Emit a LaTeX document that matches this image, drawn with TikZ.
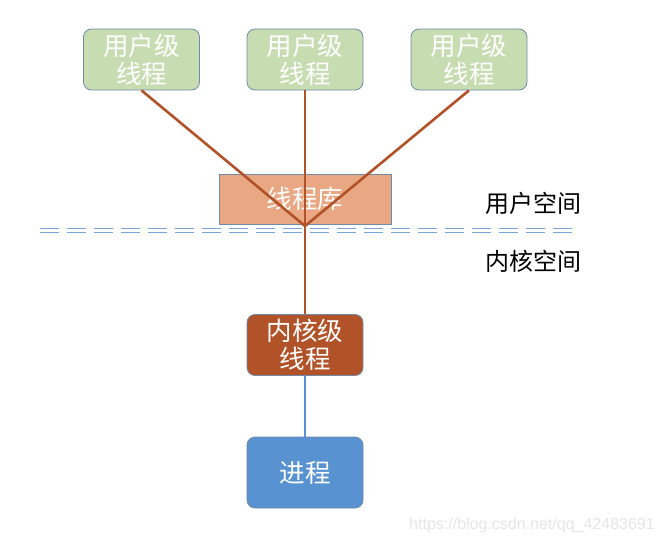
\documentclass[tikz,border=0pt]{standalone}
\usepackage{fontspec}
\usepackage{xcolor}
\usepackage{tikz}
\usetikzlibrary{positioning}
\newfontfamily\cjk{Noto Sans CJK SC}

\definecolor{ugreen}{RGB}{200,220,178}
\definecolor{libsalmon}{RGB}{233,168,131}
\definecolor{kbrown}{RGB}{178,82,40}
\definecolor{pblue}{RGB}{88,146,208}
\definecolor{boxedge}{RGB}{110,140,170}
\definecolor{sepblue}{RGB}{120,165,220}

\tikzset{
	threadbox/.style={draw=boxedge, line width=0.8pt, rounded corners=8pt, minimum width=116pt,
		minimum height=61pt, align=center, text=white, font=\cjk\fontsize{25.5}{28}\selectfont,
		inner sep=0pt},
	libbox/.style={draw=boxedge, line width=0.8pt, fill=libsalmon, minimum width=172pt,
		minimum height=50pt, text=white, font=\cjk\fontsize{25.5}{28}\selectfont},
	link/.style={draw=kbrown, line width=2.6pt},
	spacelabel/.style={font=\cjk\fontsize{24}{28}\selectfont, text=black},
}

\begin{document}
\begin{tikzpicture}[x=1pt, y=-1pt]
				\useasboundingbox (0, 0) rectangle (660, 543);
				
				% user level threads
				\node[threadbox, fill=ugreen] (uthreada) at (141.5, 59.5) {用户级\\线程};
				\node[threadbox, fill=ugreen] (uthreadb) at (305, 59.5) {用户级\\线程};
				\node[threadbox, fill=ugreen] (uthreadc) at (469, 59.5) {用户级\\线程};
				
				% library
				\node[libbox] (threadlib) at (305, 199) {线程库};
				
				% separator
				\draw[sepblue, line width=1.6pt, dash pattern=on 19pt off 8pt] (40, 228.5) -- (572, 228.5);
				\draw[sepblue, line width=1.6pt, dash pattern=on 19pt off 8pt] (40, 232.5) -- (572, 232.5);
				
				\node[spacelabel] (userspace) at (533, 203) {用户空间};
				\node[spacelabel] (kernelspace) at (533, 261) {内核空间};
				
				% kernel side
				\node[threadbox, fill=kbrown] (kthread) at (305, 345) {内核级\\线程};
				\node[threadbox, fill=pblue, minimum height=71pt] (proc) at (305, 472.5) {进程};
				
				\coordinate (hub) at (305, 226);
				\draw[link] (uthreada.south) -- (hub);
				\draw[link] (uthreadb.south) -- (hub);
				\draw[link] (uthreadc.south) -- (hub);
				\draw[link] (hub) -- (kthread.north);
				\draw[draw=pblue, line width=2.6pt] (kthread.south) -- (proc.north);
				
				\node[text=black!10, font=\fontspec{Liberation Sans}\fontsize{16}{19}\selectfont] (mark) at (532, 525) {https://blog.csdn.net/qq\_42483691};
			\end{tikzpicture}
\end{document}
